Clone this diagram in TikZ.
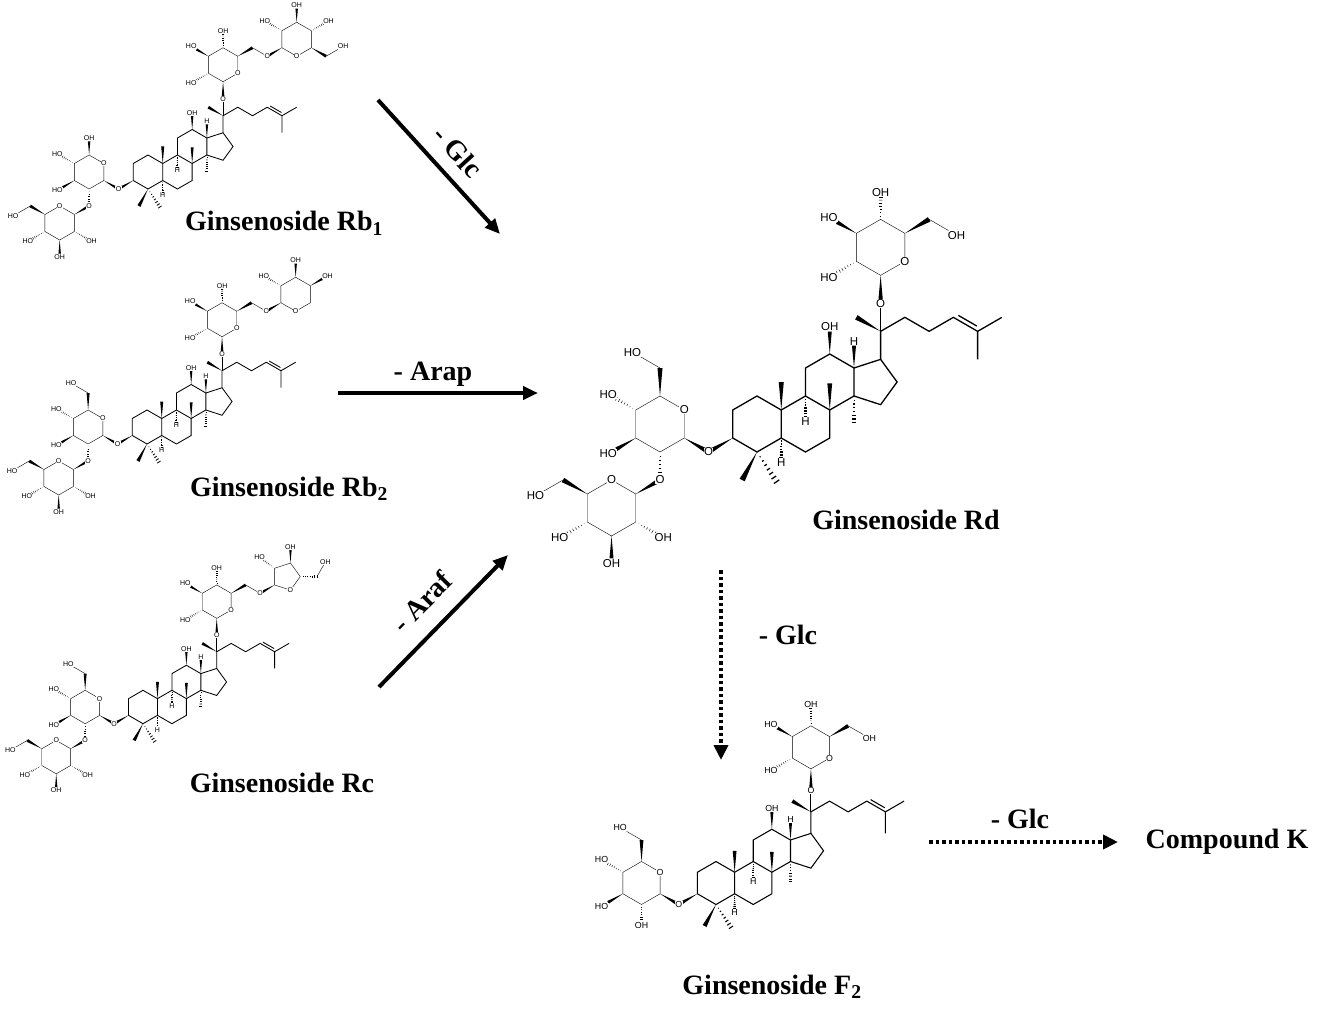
\documentclass[tikz,border=0pt]{standalone}
\usepackage{fontspec}
\setmainfont{Liberation Serif}
\newfontfamily\chemfont{Liberation Sans}
\usetikzlibrary{arrows.meta,calc}
\pgfdeclarelayer{fg}
\pgfsetlayers{main,fg}

\tikzset{
  atom/.style={font=\chemfont\fontsize{\atomsize}{\atomsize}\selectfont, inner sep=0.4pt, fill=white},
  title/.style={font=\fontsize{28}{32}\selectfont\bfseries, inner sep=0pt, anchor=base},
  reaction/.style={line width=4pt, -{Triangle[length=15pt,width=13pt]}},
  dotarrow/.style={line width=4pt, dash pattern=on 3.5pt off 3pt, -{Triangle[length=15pt,width=14pt]}},
}
\def\atomsize{10}

% bonds and atom labels
\def\wedgebond(#1)(#2){\fill (#1) -- ($(#2)!0.09!90:(#1)$) -- ($(#2)!0.09!-90:(#1)$) -- cycle;}
\def\hashbond(#1)(#2){\foreach \hh in {0.16,0.3,...,1.0}{\draw ($(#1)!\hh!(#2)!0.09!90:(#1)$) -- ($(#1)!\hh!(#2)!0.09!-90:(#1)$);}}
\def\atom(#1)#2#3{\begin{pgfonlayer}{fg}\node[atom,anchor=#2] at (#1) {#3};\end{pgfonlayer}}
\def\ohlabel#1{%
  \pgfmathtruncatemacro\ohleft{cos(#1)+0.2<0}%
  \pgfmathtruncatemacro\ohanchor{#1+180}%
  \ifnum\ohleft=1 \atom(oh){\ohanchor}{HO}\else\atom(oh){\ohanchor}{OH}\fi}
\def\hydroxy#1(#2)#3{\coordinate (oh) at ($(#2)+({#3}:0.8)$);\csname #1bond\endcsname(#2)(oh)\ohlabel{#3}}
\def\hydroxymethyl(#1)#2#3{\coordinate (ch) at ($(#1)+({#2}:1)$);\wedgebond(#1)(ch)%
  \coordinate (oh) at ($(ch)+({#2+(#3)}:0.8)$);\draw (ch)--(oh);\ohlabel{#2+(#3)}}

% sugar rings
\def\pyranose#1(#2)#3{\foreach \k in {0,...,5}{\coordinate (#1-\k) at ($(#2)+({#3-60*\k}:1)$);}%
  \draw (#1-0)--(#1-1)--(#1-2)--(#1-3)--(#1-4)--(#1-5)--cycle;\atom(#1-0){center}{O}}
\def\glucose#1(#2)#3{\pyranose{#1}(#2){#3}\hydroxy{wedge}(#1-3){#3-180}\hydroxy{hash}(#1-4){#3-240}}

% aglycone
\def\dammarane{%
  \coordinate (c1) at (0,1); \coordinate (c2) at (-0.866,0.5); \coordinate (c3) at (-0.866,-0.5);
  \coordinate (c4) at (0,-1); \coordinate (c5) at (0.866,-0.5); \coordinate (c10) at (0.866,0.5);
  \coordinate (c6) at (1.732,-1); \coordinate (c7) at (2.598,-0.5); \coordinate (c8) at (2.598,0.5);
  \coordinate (c9) at (1.732,1); \coordinate (c11) at (1.732,2); \coordinate (c12) at (2.598,2.5);
  \coordinate (c13) at (3.464,2); \coordinate (c14) at (3.464,1); \coordinate (c15) at (4.415,0.691);
  \coordinate (c16) at (5.003,1.5); \coordinate (c17) at (4.415,2.309); \coordinate (c20) at (4.415,3.309);
  \coordinate (c21) at (3.549,3.809); \coordinate (c22) at (5.281,3.809); \coordinate (c23) at (6.147,3.309);
  \coordinate (c24) at (7.013,3.809); \coordinate (c25) at (7.879,3.309); \coordinate (c26) at (7.879,2.309);
  \coordinate (c27) at (8.745,3.809);
  \draw (c1)--(c2)--(c3)--(c4)--(c5)--(c10)--cycle;
  \draw (c5)--(c6)--(c7)--(c8)--(c9)--(c10);
  \draw (c9)--(c11)--(c12)--(c13)--(c14)--(c8);
  \draw (c13)--(c17)--(c16)--(c15)--(c14);
  \draw (c17)--(c20)--(c22)--(c23)--(c24)--(c25)--(c26);
  \draw (c25)--(c27);
  \draw ($(c24)+(0.179,0.07)$) -- ($(c25)+(-0.029,0.19)$);
  \coordinate (c4a) at (-0.53,-2); \coordinate (c4b) at (0.7,-2.06);
  \coordinate (h5) at (0.866,-1.2); \coordinate (h9) at (1.732,0.26);
  \coordinate (c10m) at (0.866,1.5); \coordinate (c8m) at (2.598,1.45);
  \coordinate (c14m) at (3.464,0.05); \coordinate (o12) at (2.598,3.3);
  \coordinate (h13) at (3.464,2.8); \coordinate (o3) at (-1.732,-1);
  \coordinate (o20) at (4.415,4.309);
  \wedgebond(c4)(c4a) \hashbond(c4)(c4b) \hashbond(c5)(h5) \hashbond(c9)(h9)
  \wedgebond(c10)(c10m) \wedgebond(c8)(c8m) \hashbond(c14)(c14m)
  \wedgebond(c12)(o12) \wedgebond(c13)(h13) \wedgebond(c20)(c21)
  \wedgebond(c3)(o3) \draw (c20)--(o20);
  \atom(h5){north}{H} \atom(h9){north}{H} \atom(o12){south}{OH} \atom(h13){south}{H}
  \atom(o3){center}{O} \atom(o20){center}{O}}

% glycosyl parts
\def\topglucose{\glucose{t}(4.415,6.309){330}\wedgebond(t-1)(o20)\hydroxy{hash}(t-2){210}}
\def\sixlink{\coordinate (ch) at ($(t-5)+(30:1)$);\coordinate (o6) at ($(ch)+(-30:1)$);%
  \wedgebond(t-5)(ch)\draw (ch)--(o6);\atom(o6){center}{O}}
\def\sophorose{\glucose{i}(-3.464,0){30}\wedgebond(i-1)(o3)%
  \coordinate (o2) at (-3.464,-2);\hashbond(i-2)(o2)\atom(o2){center}{O}%
  \glucose{u}(-5.196,-3){90}\wedgebond(u-1)(o2)\hydroxy{hash}(u-2){330}\hydroxymethyl(u-5){150}{60}}

\begin{document}
\begin{tikzpicture}[x=1pt,y=-1pt]
\useasboundingbox (0,0) rectangle (1320,1011);

% Ginsenoside Rb1
\begin{scope}[shift={(148pt,-172pt)},x=17pt,y=17pt,line width=0.85pt]
\def\atomsize{7}
\dammarane \topglucose \sixlink
\glucose{r}(8.745,7.809){270}
\wedgebond(r-1)(o6) \hydroxy{hash}(r-2){150} \hydroxymethyl(r-5){330}{60}
\sophorose \hydroxy{wedge}(i-5){90}
\end{scope}

% Ginsenoside Rb2
\begin{scope}[shift={(147pt,-427pt)},x=17pt,y=17pt,line width=0.85pt]
\def\atomsize{7}
\dammarane \topglucose \sixlink
\pyranose{r}(8.745,7.809){270}
\wedgebond(r-1)(o6) \hydroxy{hash}(r-2){150} \hydroxy{wedge}(r-3){90} \hydroxy{wedge}(r-4){30}
\sophorose \hydroxymethyl(i-5){90}{60}
\end{scope}

% Ginsenoside Rc
\begin{scope}[shift={(143pt,-707pt)},x=16.7pt,y=16.7pt,line width=0.85pt]
\def\atomsize{7}
\dammarane \topglucose \sixlink
\foreach \k/\a in {1/216,0/288,4/0,3/72,2/144} \coordinate (f-\k) at ($(8.567,7.809)+(\a:0.851)$);
\draw (f-1)--(f-0)--(f-4)--(f-3)--(f-2)--cycle;
\atom(f-0){center}{O}
\wedgebond(f-1)(o6) \hydroxy{hash}(f-2){144} \hydroxy{wedge}(f-3){90}
\coordinate (ch) at ($(f-4)+(0:1)$); \hashbond(f-4)(ch)
\coordinate (oh) at ($(ch)+(60:0.8)$); \draw (ch)--(oh); \ohlabel{60}
\sophorose \hydroxymethyl(i-5){90}{60}
\end{scope}

% Ginsenoside Rd
\begin{scope}[shift={(757pt,-424pt)},x=28pt,y=28pt,line width=1.3pt]
\def\atomsize{11.5}
\dammarane \topglucose \hydroxymethyl(t-5){30}{-60}
\sophorose \hydroxymethyl(i-5){90}{60}
\end{scope}

% Ginsenoside F2
\begin{scope}[shift={(716pt,-883pt)},x=21.5pt,y=21.5pt,line width=1.05pt]
\def\atomsize{8.8}
\dammarane \topglucose \hydroxymethyl(t-5){30}{-60}
\glucose{i}(-3.464,0){30}
\wedgebond(i-1)(o3) \hydroxy{hash}(i-2){270} \hydroxymethyl(i-5){90}{60}
\end{scope}

\node[title] (rb1) at (284,231) {Ginsenoside Rb\textsubscript{1}};
\node[title] (rb2) at (289,496) {Ginsenoside Rb\textsubscript{2}};
\node[title] (rc) at (282,792) {Ginsenoside Rc};
\node[title] (rd) at (906,529) {Ginsenoside Rd};
\node[title] (f2) at (772,994) {Ginsenoside F\textsubscript{2}};
\node[title] (ck) at (1227,848) {Compound K};

\coordinate (rb1out) at (378,100); \coordinate (rdin1) at (500,234);
\coordinate (rb2out) at (338,393); \coordinate (rdin2) at (538,393);
\coordinate (rcout) at (379,687); \coordinate (rdin3) at (508,555);
\coordinate (rdout) at (721,570); \coordinate (f2in) at (721,760);
\coordinate (f2out) at (929,842); \coordinate (ckin) at (1118,842);

\draw[reaction] (rb1out) -- (rdin1);
\draw[reaction] (rb2out) -- (rdin2);
\draw[reaction] (rcout) -- (rdin3);
\draw[dotarrow] (rdout) -- (f2in);
\draw[dotarrow] (f2out) -- (ckin);

\node[title, anchor=center, rotate=-47.7] (glc1) at (458,152) {- Glc};
\node[title] (arap) at (433,380) {- Arap};
\node[title, anchor=center, rotate=45.6] (araf) at (422,602) {- Araf};
\node[title] (glc2) at (788,644) {- Glc};
\node[title] (glc3) at (1020,828) {- Glc};
\end{tikzpicture}
\end{document}
